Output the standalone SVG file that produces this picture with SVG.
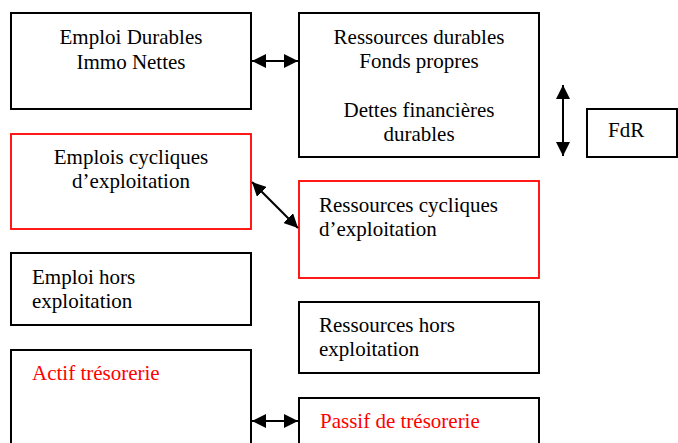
<svg xmlns="http://www.w3.org/2000/svg" width="678" height="443" viewBox="0 0 678 443">
<defs>
<marker id="ah" markerUnits="userSpaceOnUse" markerWidth="14" markerHeight="14" viewBox="0 0 14 14" refX="14" refY="7" orient="auto-start-reverse">
<path d="M0,0 L14,7 L0,14 z" fill="#000"/>
</marker>
<style>
.b{fill:#fff;stroke:#000;stroke-width:2}
.r{fill:#fff;stroke:#f00;stroke-width:1.8}
.t{font-family:'Liberation Serif','Times New Roman','DejaVu Serif',serif;font-size:21px;fill:#000}
.c{text-anchor:middle}
.red{fill:#f00}
.a{stroke:#000;stroke-width:2;fill:none;marker-start:url(#ah);marker-end:url(#ah)}
</style>
</defs>
<rect width="678" height="443" fill="#fff"/>
<g id="emplois-durables">
<rect class="b" x="11" y="13" width="240" height="96"/>
<text class="t c" font-family="Liberation Serif, serif" x="131" y="44">Emploi Durables</text>
<text class="t c" font-family="Liberation Serif, serif" x="131" y="69">Immo Nettes</text>
</g>
<g id="ressources-durables">
<rect class="b" x="299" y="13" width="240" height="144"/>
<text class="t c" font-family="Liberation Serif, serif" x="419" y="44">Ressources durables</text>
<text class="t c" font-family="Liberation Serif, serif" x="419" y="68">Fonds propres</text>
<text class="t c" font-family="Liberation Serif, serif" x="419" y="117">Dettes financières</text>
<text class="t c" font-family="Liberation Serif, serif" x="419" y="141">durables</text>
</g>
<g id="fdr">
<rect class="b" x="587" y="109" width="90" height="48"/>
<text class="t" font-family="Liberation Serif, serif" x="608" y="137">FdR</text>
</g>
<g id="emplois-cycliques">
<rect class="r" x="11" y="134" width="240" height="95"/>
<text class="t c" font-family="Liberation Serif, serif" x="131" y="164">Emplois cycliques</text>
<text class="t c" font-family="Liberation Serif, serif" x="131" y="188">d’exploitation</text>
</g>
<g id="ressources-cycliques">
<rect class="r" x="299" y="181" width="240" height="97"/>
<text class="t" font-family="Liberation Serif, serif" x="319" y="212">Ressources cycliques</text>
<text class="t" font-family="Liberation Serif, serif" x="319" y="236">d’exploitation</text>
</g>
<g id="emploi-hors">
<rect class="b" x="11" y="253" width="240" height="72"/>
<text class="t" font-family="Liberation Serif, serif" x="32" y="284">Emploi hors</text>
<text class="t" font-family="Liberation Serif, serif" x="32" y="308">exploitation</text>
</g>
<g id="ressources-hors">
<rect class="b" x="299" y="302" width="240" height="71"/>
<text class="t" font-family="Liberation Serif, serif" x="319" y="332">Ressources hors</text>
<text class="t" font-family="Liberation Serif, serif" x="319" y="356">exploitation</text>
</g>
<g id="actif-tresorerie">
<rect class="b" x="11" y="350" width="240" height="110"/>
<text class="t red" font-family="Liberation Serif, serif" x="32" y="380">Actif trésorerie</text>
</g>
<g id="passif-tresorerie">
<rect class="b" x="299" y="398" width="240" height="60"/>
<text class="t red" font-family="Liberation Serif, serif" x="320" y="428">Passif de trésorerie</text>
</g>
<g id="connectors">
<line class="a" x1="252" y1="61" x2="298" y2="61"/>
<line class="a" x1="252" y1="182" x2="298" y2="228"/>
<line class="a" x1="563" y1="85" x2="563" y2="156"/>
<line class="a" x1="252" y1="421" x2="298" y2="421"/>
</g>
</svg>
